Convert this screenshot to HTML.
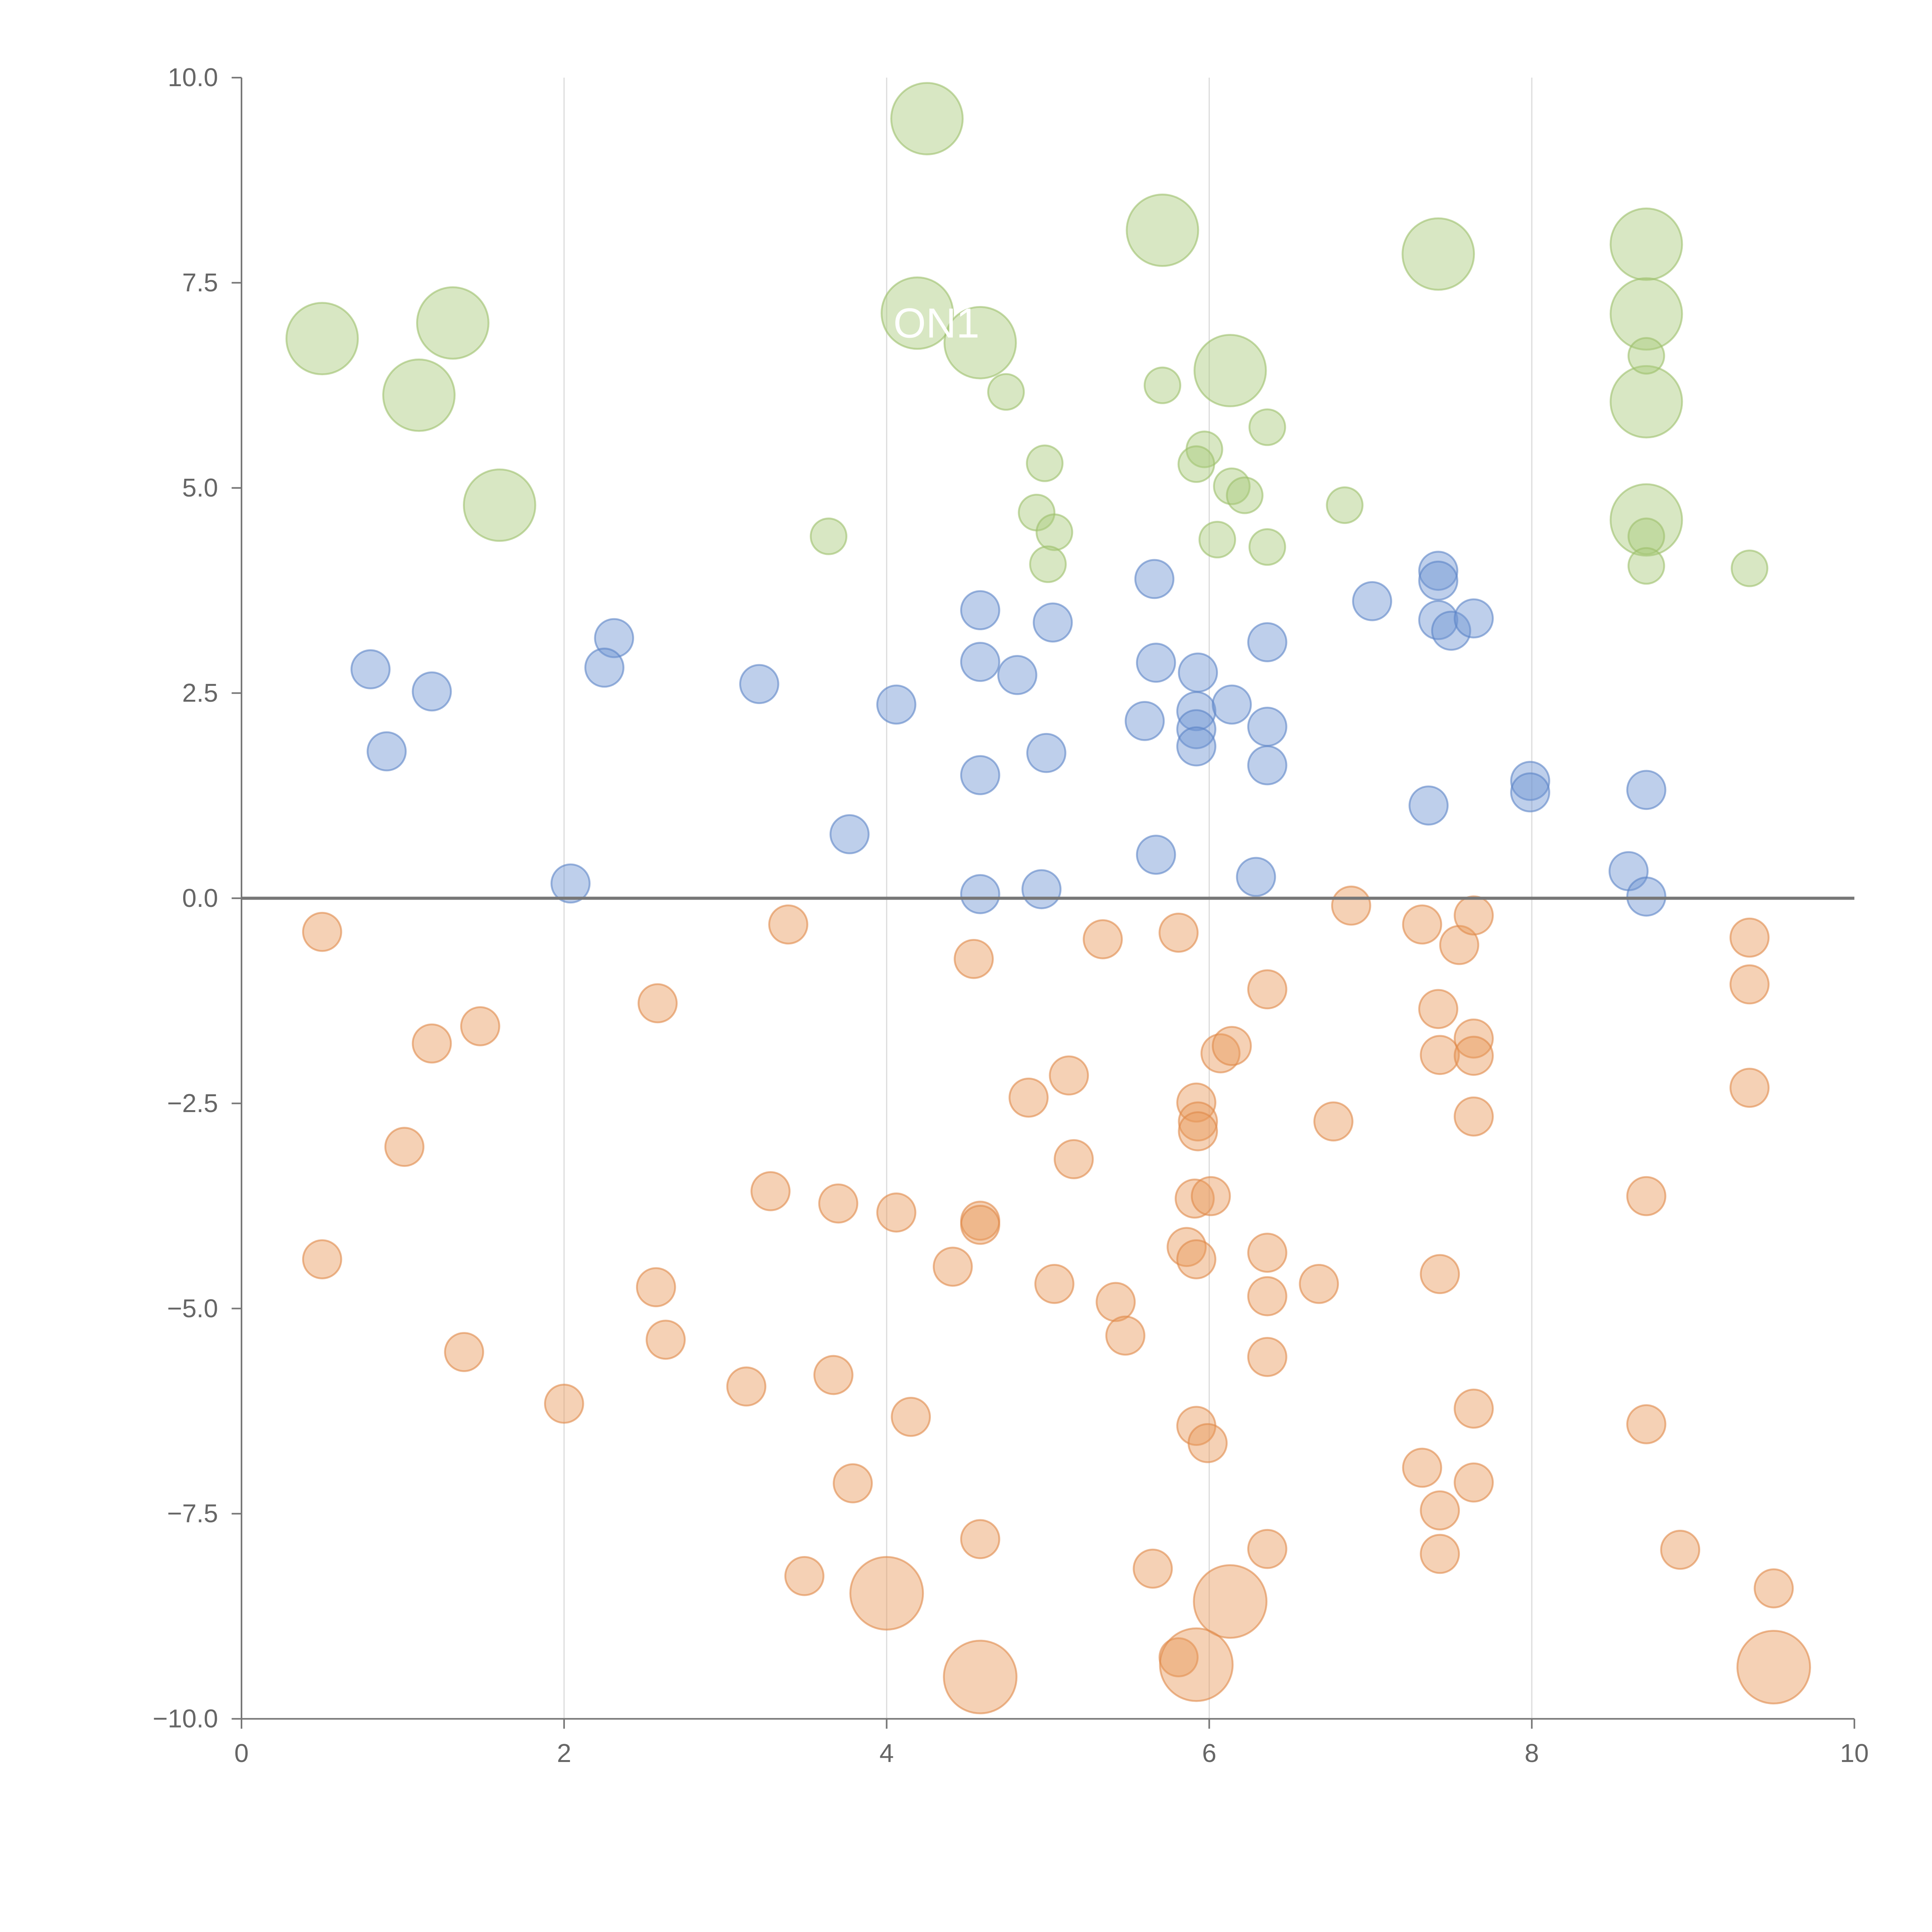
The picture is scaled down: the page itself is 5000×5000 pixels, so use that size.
<!DOCTYPE html>
<html><head><meta charset="utf-8"><style>
html,body{margin:0;padding:0;background:#fff;}
svg{display:block;}
text{font-family:"Liberation Sans",sans-serif;}
</style></head><body>
<svg id="chart" width="5000" height="5000" viewBox="0 0 1568 1568" xmlns="http://www.w3.org/2000/svg">
<g id="grid"></g>
<g id="marks"></g>
<g id="axes"></g>
<text x="760" y="274" fill="#fff" font-size="34" text-anchor="middle">ON1</text>
</svg>
<script>
const xTicks=[0,2,4,6,8,10];
const yTicks=[10,7.5,5,2.5,0,-2.5,-5,-7.5,-10];
const yTickLabels=["10.0","7.5","5.0","2.5","0.0","\u22122.5","\u22125.0","\u22127.5","\u221210.0"];
const greenLargeX=[0.50,1.31,1.10,1.60,4.25,5.71,4.19,4.58,6.13,7.42,8.71,8.71,8.71,8.71];
const greenLargeY=[6.82,7.01,6.13,4.79,9.50,8.14,7.13,6.77,6.43,7.85,7.97,7.12,6.05,4.61];
const greenSmallX=[4.74,5.71,5.97,5.92,4.98,6.36,6.14,6.22,6.84,4.93,5.04,3.64,6.05,6.36,5.00,8.71,8.71,8.71,9.35];
const greenSmallY=[6.17,6.25,5.47,5.29,5.30,5.74,5.02,4.91,4.79,4.70,4.46,4.41,4.37,4.28,4.07,6.61,4.41,4.05,4.02];
const blueX=[0.80,1.18,0.90,2.31,2.25,3.21,4.06,3.77,2.04,4.58,4.58,4.81,5.03,4.99,4.58,4.58,4.96,5.66,5.67,5.93,5.60,5.92,5.92,5.92,6.14,6.36,6.36,6.36,5.67,6.29,7.01,7.42,7.42,7.42,7.50,7.64,7.99,7.99,7.36,8.71,8.60,8.71];
const blueY=[2.79,2.52,1.79,3.17,2.81,2.61,2.36,0.78,0.18,3.51,2.88,2.72,3.36,1.77,1.50,0.05,0.11,3.89,2.87,2.75,2.16,2.28,2.06,1.85,2.36,3.12,2.09,1.62,0.53,0.26,3.62,3.99,3.87,3.39,3.26,3.41,1.43,1.29,1.13,1.32,0.33,0.02];
const orangeX=[0.50,1.18,1.48,1.01,0.50,1.38,2.00,2.58,2.57,2.63,3.13,3.28,3.39,3.70,4.06,3.67,4.15,3.79,3.49,4.54,4.58,4.58,4.41,4.88,5.13,5.16,5.04,5.34,5.42,5.48,5.81,5.92,5.93,5.93,5.91,6.01,6.07,6.14,5.86,5.92,6.36,6.36,6.36,6.36,5.92,5.99,6.36,5.65,5.81,4.58,6.88,6.77,6.68,7.32,7.55,7.64,7.42,7.43,7.64,7.64,7.64,8.71,7.43,7.64,7.64,7.32,7.43,7.43,8.71,8.92,9.50,9.35,9.35,9.35];
const orangeY=[-0.41,-1.77,-1.56,-3.03,-4.40,-5.53,-6.16,-1.28,-4.74,-5.38,-5.95,-3.57,-0.32,-3.72,-3.83,-5.81,-6.32,-7.13,-8.26,-0.74,-3.93,-3.98,-4.49,-2.43,-2.16,-3.18,-4.70,-0.50,-4.92,-5.33,-0.42,-2.49,-2.72,-2.84,-3.66,-3.63,-1.89,-1.80,-4.25,-4.40,-1.11,-4.32,-4.85,-5.59,-6.43,-6.64,-7.93,-8.17,-9.25,-7.81,-0.09,-2.72,-4.70,-0.32,-0.57,-0.21,-1.35,-1.91,-1.71,-1.92,-2.66,-3.63,-4.58,-6.22,-7.12,-6.94,-7.46,-7.99,-6.41,-7.94,-8.41,-0.48,-1.05,-2.31];
const orangeLargeX=[4.00,6.13,5.92,4.58,9.50];
const orangeLargeY=[-8.47,-8.57,-9.34,-9.49,-9.37];

const X0=196,X1=1505,Y0=1395,Y1=63;
function sx(v){return X0+(v-0)/(10-0)*(X1-X0);}
function sy(v){return Y0-(v+10)/20*(Y0-Y1);}
const NS="http://www.w3.org/2000/svg";
function mk(tag,parent,attrs){const e=document.createElementNS(NS,tag);for(const k in attrs)e.setAttribute(k,attrs[k]);parent.appendChild(e);return e;}
const grid=document.getElementById('grid'),marks=document.getElementById('marks'),axes=document.getElementById('axes');
xTicks.forEach(t=>{if(t>0&&t<10){const l=mk('line',grid,{x1:sx(t),x2:sx(t),y1:Y1,y2:Y0,stroke:'#dddddd','stroke-width':1});

}});
function series(xs,ys,r,fill,stroke,name){xs.forEach((x,i)=>{const c=mk('circle',marks,{cx:sx(x),cy:sy(ys[i]),r:r,fill:fill,'fill-opacity':0.45,stroke:stroke,'stroke-opacity':0.6,'stroke-width':1.5});

});}
series(greenLargeX,greenLargeY,29,'#a9c97a','#9cbf6a','green-bubble');
series(greenSmallX,greenSmallY,14.5,'#a9c97a','#9cbf6a','green-bubble');
series(blueX,blueY,15.5,'#6f95d2','#5b84c6','blue-bubble');
series(orangeX,orangeY,15.5,'#e99a5c','#e0894a','orange-bubble');
series(orangeLargeX,orangeLargeY,29.5,'#e99a5c','#e0894a','orange-bubble');
const z=mk('line',axes,{x1:X0,x2:X1,y1:sy(0),y2:sy(0),stroke:'#777','stroke-width':2.5});


const ya=mk('line',axes,{x1:X0,x2:X0,y1:Y1,y2:Y0,stroke:'#777','stroke-width':1.3});


const xa=mk('line',axes,{x1:X0,x2:X1,y1:Y0,y2:Y0,stroke:'#777','stroke-width':1.3});


yTicks.forEach((t,i)=>{mk('line',axes,{x1:X0-8,x2:X0,y1:sy(t),y2:sy(t),stroke:'#777','stroke-width':1.3});
const tx=mk('text',axes,{x:X0-19,y:sy(t)+7,'text-anchor':'end','font-size':21,fill:'#666'});tx.textContent=yTickLabels[i];

});
xTicks.forEach(t=>{mk('line',axes,{x1:sx(t),x2:sx(t),y1:Y0,y2:Y0+8,stroke:'#777','stroke-width':1.3});
const tx=mk('text',axes,{x:sx(t),y:Y0+35,'text-anchor':'middle','font-size':21,fill:'#666'});tx.textContent=String(t);

});
</script>
</body></html>
